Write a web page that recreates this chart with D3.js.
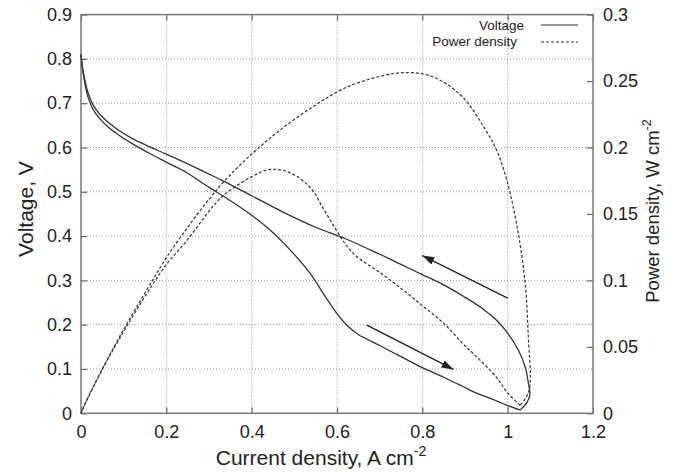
<!DOCTYPE html>
<html>
<head>
<meta charset="utf-8">
<script src="https://cdn.jsdelivr.net/npm/d3@7"></script>
<style>
  body { margin: 0; background: #fff; }
  text { font-family: "Liberation Sans", Arial, sans-serif; fill: #222; }
</style>
</head>
<body>
<svg width="686" height="472"></svg>
<script>
var svg = d3.select("svg");

// forward sweep (upper voltage branch)
var fwdCurrent = [0, 0.002, 0.005, 0.01, 0.017, 0.029, 0.045, 0.065, 0.09, 0.123, 0.16, 0.2, 0.25, 0.3, 0.334, 0.4, 0.47, 0.55, 0.62, 0.7, 0.75, 0.8, 0.85, 0.9, 0.943, 0.974, 1.0, 1.025, 1.041, 1.048, 1.052, 1.044, 1.029];
var fwdVoltage = [0.81, 0.792, 0.772, 0.748, 0.722, 0.695, 0.674, 0.656, 0.638, 0.619, 0.602, 0.585, 0.563, 0.54, 0.524, 0.491, 0.456, 0.42, 0.394, 0.359, 0.336, 0.313, 0.29, 0.262, 0.235, 0.21, 0.181, 0.143, 0.105, 0.071, 0.041, 0.023, 0.0075];
var fwdPower = [0, 0.0016, 0.004, 0.0075, 0.0123, 0.02, 0.0303, 0.0426, 0.0574, 0.076, 0.096, 0.117, 0.14, 0.161, 0.174, 0.195, 0.214, 0.232, 0.245, 0.2535, 0.2562, 0.2555, 0.2492, 0.236, 0.216, 0.198, 0.173, 0.135, 0.098, 0.06, 0.02, 0.0125, 0.006];

// backward sweep (lower voltage branch)
var bwdCurrent = [1.029, 0.998, 0.974, 0.919, 0.896, 0.849, 0.8, 0.75, 0.7, 0.65, 0.625, 0.6, 0.568, 0.537, 0.49, 0.443, 0.4, 0.334, 0.3, 0.248, 0.2, 0.16, 0.123, 0.09, 0.065, 0.045, 0.029, 0.017, 0.01, 0.005, 0.002, 0];
var bwdVoltage = [0.0075, 0.018, 0.028, 0.049, 0.06, 0.082, 0.103, 0.128, 0.153, 0.178, 0.197, 0.225, 0.27, 0.316, 0.369, 0.414, 0.447, 0.49, 0.51, 0.543, 0.567, 0.587, 0.607, 0.627, 0.645, 0.664, 0.685, 0.712, 0.74, 0.768, 0.79, 0.81];
var bwdPower = [0.006, 0.016, 0.027, 0.045, 0.052, 0.068, 0.081, 0.094, 0.106, 0.117, 0.125, 0.137, 0.154, 0.17, 0.181, 0.1835, 0.178, 0.164, 0.152, 0.13, 0.112, 0.093, 0.074, 0.056, 0.042, 0.03, 0.02, 0.012, 0.0074, 0.0038, 0.0016, 0];

var xTicks = [0, 0.2, 0.4, 0.6, 0.8, 1, 1.2];
var yTicks = [0, 0.1, 0.2, 0.3, 0.4, 0.5, 0.6, 0.7, 0.8, 0.9];
var y2Ticks = [0, 0.05, 0.1, 0.15, 0.2, 0.25, 0.3];

// sweep-direction arrows [x1, v1, x2, v2]
var arrowUp = [1.0, 0.26, 0.8, 0.356];
var arrowDown = [0.67, 0.199, 0.873, 0.099];

var pLeft = 81, pRight = 593, pTop = 14.6, pBottom = 413.3;
var ink = "#333";

var x = d3.scaleLinear().domain([0, 1.2]).range([pLeft, pRight]);
var y = d3.scaleLinear().domain([0, 0.9]).range([pBottom, pTop]);
var y2 = d3.scaleLinear().domain([0, 0.3]).range([pBottom, pTop]);

// grid
svg.append("g").selectAll("line").data(xTicks.slice(1, -1)).join("line")
   .attr("x1", d => x(d)).attr("x2", d => x(d))
   .attr("y1", pTop).attr("y2", pBottom)
   .attr("stroke", "#999").attr("stroke-dasharray", "1,2");
svg.append("g").selectAll("line").data(yTicks.slice(1, -1)).join("line")
   .attr("x1", pLeft).attr("x2", pRight)
   .attr("y1", d => y(d)).attr("y2", d => y(d))
   .attr("stroke", "#999").attr("stroke-dasharray", "1,2");

// axes with inward ticks
function styleAxis(g) {
  g.select(".domain").remove();
  g.selectAll(".tick line").attr("stroke", "#666").attr("stroke-width", 1.2);
  g.selectAll(".tick text").attr("font-size", 18).attr("fill", "#222")
   .attr("font-family", "Liberation Sans, Arial, sans-serif");
}
var fmt = d3.format("~g");

svg.append("g").attr("transform", "translate(0," + pBottom + ")")
   .call(d3.axisBottom(x).tickValues(xTicks).tickFormat(fmt).tickSizeInner(-6).tickSizeOuter(0).tickPadding(12))
   .call(styleAxis);
svg.append("g").attr("transform", "translate(0," + pTop + ")")
   .call(d3.axisTop(x).tickValues(xTicks).tickFormat("").tickSizeInner(-6).tickSizeOuter(0))
   .call(styleAxis);
svg.append("g").attr("transform", "translate(" + pLeft + ",0)")
   .call(d3.axisLeft(y).tickValues(yTicks).tickFormat(fmt).tickSizeInner(-6).tickSizeOuter(0).tickPadding(9))
   .call(styleAxis);
svg.append("g").attr("transform", "translate(" + pRight + ",0)")
   .call(d3.axisRight(y2).tickValues(y2Ticks).tickFormat(fmt).tickSizeInner(-6).tickSizeOuter(0).tickPadding(10))
   .call(styleAxis);

svg.append("rect")
   .attr("x", pLeft).attr("y", pTop)
   .attr("width", pRight - pLeft).attr("height", pBottom - pTop)
   .attr("fill", "none").attr("stroke", "#777").attr("stroke-width", 1.5);

// curves
var vLine = d3.line().x(d => x(d[0])).y(d => y(d[1])).curve(d3.curveCatmullRom.alpha(0.5));
var pLine = d3.line().x(d => x(d[0])).y(d => y2(d[1])).curve(d3.curveCatmullRom.alpha(0.5));

var plot = svg.append("g");
[[fwdCurrent, fwdVoltage], [bwdCurrent, bwdVoltage]].forEach(function(s) {
  plot.append("path")
      .attr("d", vLine(d3.zip(s[0], s[1])))
      .attr("fill", "none").attr("stroke", ink).attr("stroke-width", 1.3);
});
[[fwdCurrent, fwdPower], [bwdCurrent, bwdPower]].forEach(function(s) {
  plot.append("path")
      .attr("d", pLine(d3.zip(s[0], s[1])))
      .attr("fill", "none").attr("stroke", ink).attr("stroke-width", 1.2)
      .attr("stroke-dasharray", "3,2");
});

// arrows
svg.append("defs").append("marker")
   .attr("id", "head").attr("viewBox", "0 0 12 8")
   .attr("refX", 12).attr("refY", 4)
   .attr("markerWidth", 12).attr("markerHeight", 8)
   .attr("markerUnits", "userSpaceOnUse").attr("orient", "auto")
   .append("path").attr("d", "M0,0 L12,4 L0,8 Z").attr("fill", "#222");

[arrowUp, arrowDown].forEach(function(a) {
  svg.append("line")
     .attr("x1", x(a[0])).attr("y1", y(a[1]))
     .attr("x2", x(a[2])).attr("y2", y(a[3]))
     .attr("stroke", "#222").attr("stroke-width", 1.3)
     .attr("marker-end", "url(#head)");
});

// legend
var legend = svg.append("g");
legend.append("text").attr("x", 524).attr("y", 30).attr("text-anchor", "end")
      .attr("font-size", 13.5).text("Voltage");
legend.append("line").attr("x1", 541).attr("x2", 578).attr("y1", 25).attr("y2", 25)
      .attr("stroke", ink).attr("stroke-width", 1.1);
legend.append("text").attr("x", 517).attr("y", 46).attr("text-anchor", "end")
      .attr("font-size", 13.5).text("Power density");
legend.append("line").attr("x1", 541).attr("x2", 578).attr("y1", 42).attr("y2", 42)
      .attr("stroke", ink).attr("stroke-width", 1.1).attr("stroke-dasharray", "3,2");

// axis titles
var xt = svg.append("text").attr("x", 321).attr("y", 465).attr("text-anchor", "middle")
   .attr("font-size", 21).text("Current density, A cm");
xt.append("tspan").attr("dy", -9).attr("font-size", 14).text("-2");

svg.append("text")
   .attr("transform", "translate(33,209) rotate(-90)")
   .attr("text-anchor", "middle").attr("font-size", 21).text("Voltage, V");

var yt = svg.append("text")
   .attr("transform", "translate(659,211) rotate(-90)")
   .attr("text-anchor", "middle").attr("font-size", 18.5).text("Power density, W cm");
yt.append("tspan").attr("dy", -8).attr("font-size", 12.5).text("-2");
</script>
</body>
</html>
